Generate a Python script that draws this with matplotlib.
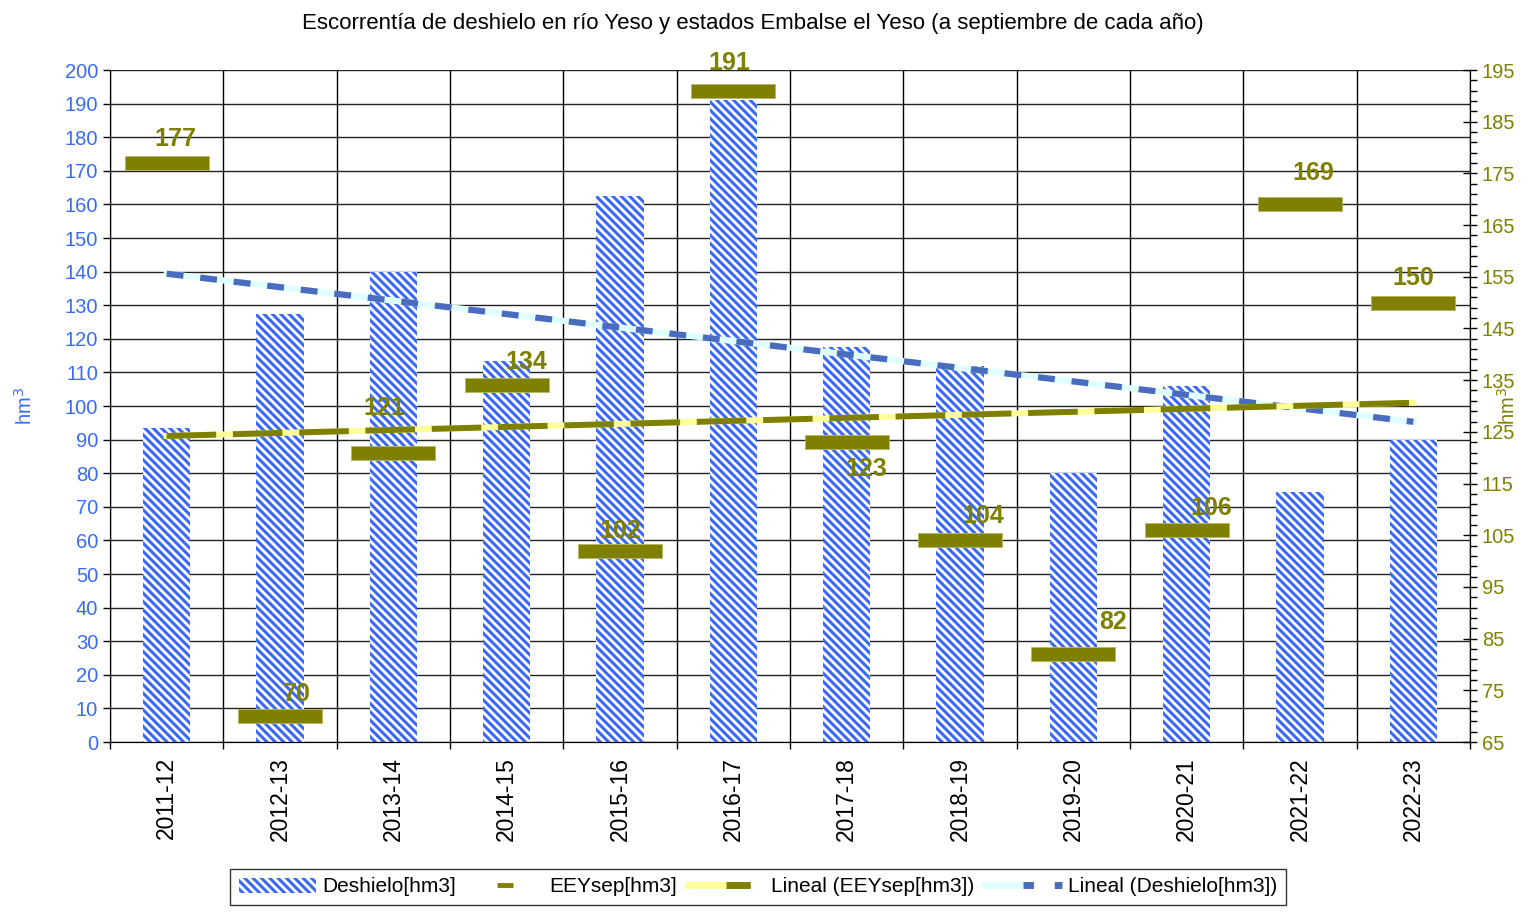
import numpy as np
import matplotlib.pyplot as plt
from matplotlib.lines import Line2D
from matplotlib.patches import Patch
from matplotlib.legend_handler import HandlerTuple

plt.rcParams['font.family'] = ['Liberation Sans', 'DejaVu Sans']
plt.rcParams['hatch.linewidth'] = 2.2

# data
temporadas = ['2011-12', '2012-13', '2013-14', '2014-15', '2015-16', '2016-17',
              '2017-18', '2018-19', '2019-20', '2020-21', '2021-22', '2022-23']
deshielo = [93.5, 127.5, 140, 113.5, 162.5, 191, 117.5, 112, 80, 106, 74.5, 90]
eey_sep = [177, 70, 121, 134, 102, 191, 123, 104, 82, 106, 169, 150]
# label offsets in pixels (dx, dy up)
lbl_off = [(9, 24), (17, 22), (-9, 45), (20, 23), (0, 20), (-4, 28),
           (20, -27), (23, 24), (40, 32), (25, 22), (13, 31), (0, 25)]

blue = '#3a6af5'
olive = '#808000'

x = np.arange(len(temporadas))

fig = plt.figure(figsize=(15.27, 9.14), dpi=100)
ax = fig.add_axes([110/1527, 1 - 742/914, 1360/1527, 672/914])
ax2 = ax.twinx()

# bars
ax.bar(x, deshielo, width=0.42, facecolor='white', edgecolor=blue,
       hatch='\\\\\\\\', linewidth=0, zorder=2)

# trend deshielo
p = np.polyfit(x, deshielo, 1)
ax.plot(x, np.polyval(p, x), color='#e0ffff', lw=4.5, zorder=3)
ax.plot(x, np.polyval(p, x), color='#4a6cbf', lw=4.5, dashes=(2.7, 2.7), zorder=4)

ax.set_xlim(-0.5, len(x) - 0.5)
ax.set_ylim(0, 200)
ax.set_yticks(np.arange(0, 201, 10))
ax.tick_params(axis='y', labelcolor=blue, color='black', labelsize=14.5,
               length=5, width=1)
ax.set_xticks(x)
ax.set_xticklabels(temporadas, rotation=90, fontsize=16.5)
ax.tick_params(axis='x', length=0, pad=11)
ax.set_xticks(np.arange(-0.5, len(x)), minor=True)
ax.tick_params(axis='x', which='minor', length=5, width=1, color='black')
ax.grid(axis='y', which='major', color='#222222', lw=1, zorder=0)
ax.grid(axis='x', which='minor', color='black', lw=1, zorder=0)
ax.set_axisbelow(True)
ax.set_ylabel('hm$^3$', color=blue, fontsize=14.5)
ax.yaxis.set_label_coords((36 - 110) / 1360, 0.5)
ax.spines['top'].set_visible(False)

# right axis
ax2.set_ylim(65, 195)
ax2.set_yticks(np.arange(65, 196, 10))
ax2.set_yticks(np.arange(65, 196, 2), minor=True)
ax2.tick_params(axis='y', which='major', labelcolor=olive, color='black',
                labelsize=14.5, direction='inout', length=10, width=1)
ax2.tick_params(axis='y', which='minor', length=5, width=1, color='black')
ax2.spines['top'].set_visible(False)
ax2.set_ylabel('hm$^3$', color=olive, fontsize=14.5, rotation=90)
ax2.yaxis.set_label_coords((1497 - 110) / 1360, 0.5)

q = np.polyfit(x, eey_sep, 1)
ax2.plot(x, np.polyval(q, x), color='#ffff99', lw=4.3, zorder=3)
ax2.plot(x, np.polyval(q, x), color=olive, lw=4.3, dashes=(8.3, 2.8), zorder=4)

rect = [(-1, -0.18), (1, -0.18), (1, 0.18), (-1, 0.18), (-1, -0.18)]
ax2.plot(x, eey_sep, linestyle='none', marker=rect, markersize=60,
         color=olive, markeredgecolor='#b8b860', markeredgewidth=0.6, zorder=5)
for xi, v, (dx, dy) in zip(x, eey_sep, lbl_off):
    ax2.annotate(str(v), (xi, v), xytext=(dx * 0.72, dy * 0.72),
                 textcoords='offset points', ha='center', va='center',
                 color=olive, fontsize=18, fontweight='bold', zorder=6)

fig.text(753/1527, 1 - 24/914, 'Escorrentía de deshielo en río Yeso y estados Embalse el Yeso (a septiembre de cada año)',
         ha='center', va='center', fontsize=16)

# legend
h_bar = Patch(facecolor='white', edgecolor=blue, hatch='\\\\\\\\', linewidth=0)
h_eey = Line2D([], [], linestyle='none', marker='_', markersize=12,
               markeredgewidth=3.5, color=olive)
h_t1 = (Line2D([], [], color='#ffff99', lw=5),
        Line2D([], [], color=olive, lw=5, dashes=(3.5, 3.5)))
h_t2 = (Line2D([], [], color='#e0ffff', lw=5),
        Line2D([], [], color='#4a6cbf', lw=5, dashes=(1.5, 3)))
leg = fig.legend([h_bar, h_eey, h_t1, h_t2],
                 ['Deshielo[hm3]', 'EEYsep[hm3]', 'Lineal (EEYsep[hm3])', 'Lineal (Deshielo[hm3])'],
                 handler_map={tuple: HandlerTuple(ndivide=None, pad=0)},
                 loc='center', bbox_to_anchor=(758/1527, 1 - 887/914), ncol=4,
                 fontsize=15, frameon=True, fancybox=False, edgecolor='black',
                 handlelength=3.7, handletextpad=0.3, columnspacing=0.5,
                 borderpad=0.4)
leg.get_frame().set_linewidth(1)

fig.savefig('out.png', dpi=100)
